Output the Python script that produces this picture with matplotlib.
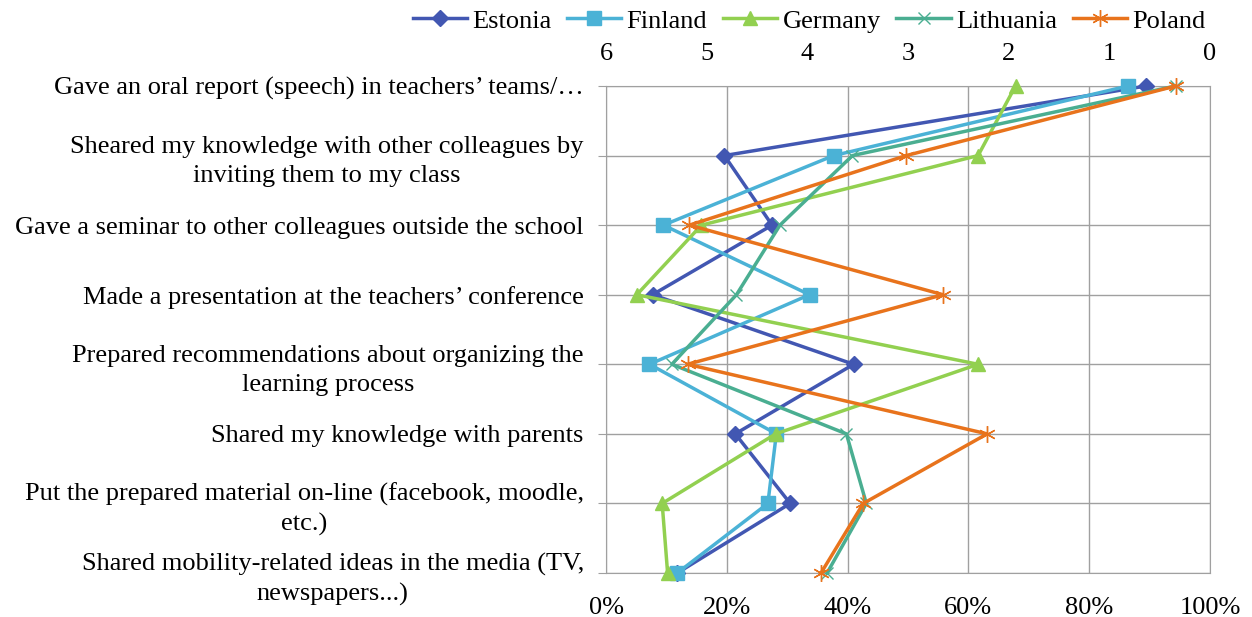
import matplotlib.pyplot as plt

plt.rcParams['font.family'] = ['Liberation Serif', 'DejaVu Serif']

categories = [
    "Gave an oral report (speech) in teachers\u2019 teams/\u2026",
    "Sheared my knowledge with other colleagues by\ninviting them to my class",
    "Gave a seminar to other colleagues outside the school",
    "Made a presentation at the teachers\u2019 conference",
    "Prepared recommendations about organizing the\nlearning process",
    "Shared my knowledge with parents",
    "Put the prepared material on-line (facebook, moodle,\netc.)",
    "Shared mobility-related ideas in the media (TV,\nnewspapers...)",
]

# shares (%) per activity
estonia = [89.4, 19.6, 27.5, 7.7, 41.0, 21.4, 30.5, 11.8]
finland = [86.4, 37.7, 9.5, 33.7, 7.2, 28.2, 26.8, 11.8]
germany = [67.8, 61.6, 15.8, 5.1, 61.6, 28.1, 9.3, 10.2]
lithuania = [94.3, 40.8, 28.8, 21.6, 10.9, 39.8, 43.1, 36.6]
poland = [94.3, 49.7, 13.8, 55.8, 13.5, 63.1, 42.6, 35.6]

top_ticks = [6, 5, 4, 3, 2, 1, 0]

FS = 19

fig = plt.figure(figsize=(12.52, 6.17), dpi=100)
ax = fig.add_axes([606/1252, 1-573/617, (1210-606)/1252, (573-86)/617])

ypos = list(range(len(categories)))
series = [
    ("Estonia", estonia, "#4257b2", "D", 8.5),
    ("Finland", finland, "#4bb2d6", "s", 9.5),
    ("Germany", germany, "#92d050", "^", 10.5),
    ("Lithuania", lithuania, "#4aae91", "x", 8.5),
    ("Poland", poland, "#e8731c", (6, 2, 0), 12),
]
for name, vals, col, mk, ms in series:
    ax.plot(vals, ypos, color=col, lw=2.5, marker=mk, ms=ms, mew=1,
            mec=col, mfc=col, label=name, clip_on=False, zorder=3)

ax.set_xlim(0, 100)
ax.set_ylim(len(categories) - 1, 0)
ax.set_xticks([0, 20, 40, 60, 80, 100])
ax.set_xticklabels(["0%", "20%", "40%", "60%", "80%", "100%"])
ax.set_yticks(ypos)
ax.set_yticklabels(categories, multialignment='center', linespacing=1.4)
ax.tick_params(axis='x', length=0, pad=17, labelsize=FS)
ax.tick_params(axis='y', length=6, color='#a0a0a0', pad=10, labelsize=FS)
ax.grid(True, color='#a0a0a0', lw=1)
ax.set_axisbelow(True)
for s in ax.spines.values():
    s.set_color('#a0a0a0')

ax2 = ax.twiny()
ax2.set_xlim(6, 0)
ax2.set_xticks(top_ticks)
ax2.tick_params(axis='x', length=0, pad=15, labelsize=FS)
for s in ax2.spines.values():
    s.set_visible(False)

fig.legend(loc='center', bbox_to_anchor=(809/1252, 1-21/617), ncol=5,
           frameon=False, fontsize=FS, handlelength=2.05, columnspacing=0.6,
           handletextpad=0.2)

plt.savefig("out.png")
